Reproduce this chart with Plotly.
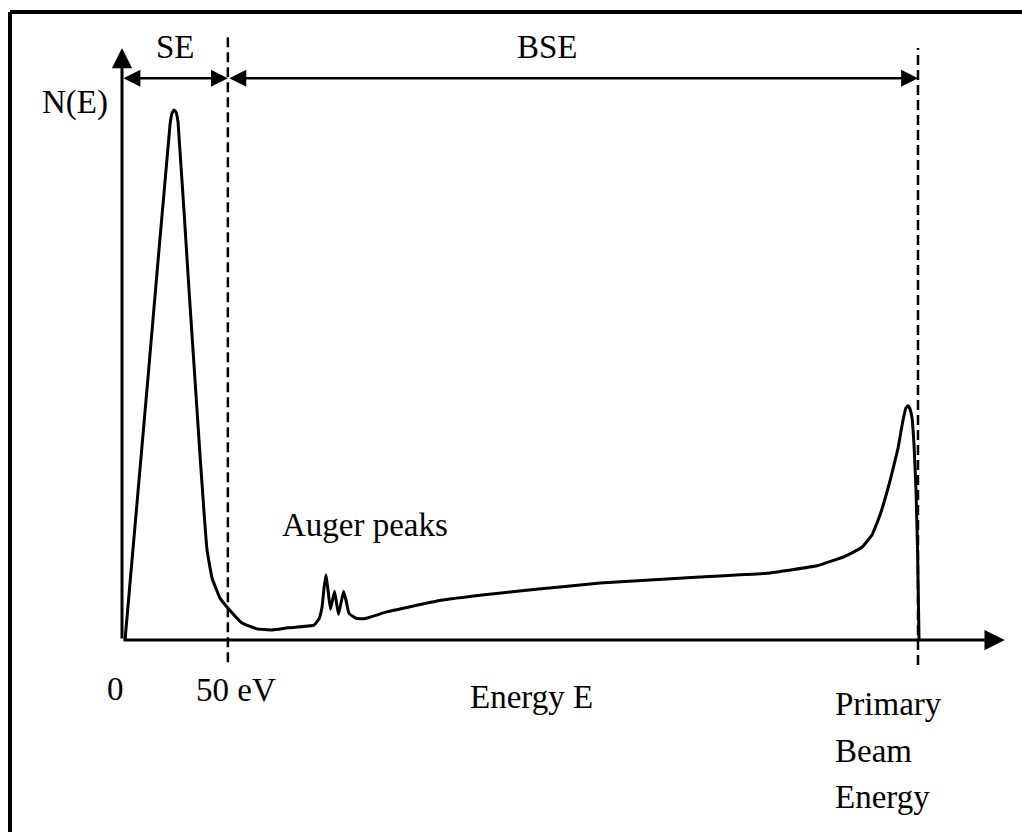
import plotly.graph_objects as go

# ---- data (schematic units: E = 100 at primary beam energy, N = 100 at SE peak) ----
energy = [0.38, 3.27, 6.03, 6.28, 6.53, 6.78, 7.04, 8.42, 9.80, 10.30, 10.68, 11.31,
          12.31, 13.32, 15.08, 16.96, 18.84, 20.85, 24.12, 24.75, 25.13, 25.38, 25.63,
          25.88, 26.19, 26.70, 27.20, 27.83, 28.14, 28.52, 29.40, 30.40, 33.29, 40.08,
          49.62, 55.03, 60.05, 66.33, 72.61, 81.03, 87.31, 90.83, 92.96, 94.22, 95.23,
          96.48, 97.49, 98.12, 98.49, 98.74, 98.99, 99.25, 99.50, 99.75, 99.94, 100.13]
counts = [0.0, 49.6, 97.2, 99.4, 100.0, 99.6, 97.7, 66.0, 34.9, 24.2, 17.0, 11.7,
          7.9, 6.0, 3.2, 2.1, 1.9, 2.3, 2.8, 4.0, 6.2, 9.8, 12.3,
          9.4, 5.8, 9.2, 4.8, 9.2, 7.5, 5.0, 4.1, 4.0, 5.3, 7.5,
          9.2, 10.0, 10.75, 11.3, 11.9, 12.6, 14.0, 15.8, 17.5, 19.8, 23.6,
          30.0, 36.2, 41.5, 43.8, 44.2, 43.6, 41.9, 36.8, 28.3, 17.0, 0.0]

E_SE_LIMIT = 13.3      # 50 eV boundary on the schematic axis
E_PRIMARY = 100.0      # primary beam energy
region_labels = ["SE", "BSE"]
tick_labels = ["0", "50 eV"]
x_title = "Energy E"
y_title = "N(E)"
primary_label = ["Primary", "Beam", "Energy"]
auger_label = "Auger peaks"

# ---- layout constants ----
X_RANGE = [-15.327, 113.065]
Y_RANGE = [-36.226, 120.755]
X_TIP = 110.9
Y_TIP = 111.7
ARROW_Y = 106.0
FONT = dict(family="Liberation Serif, Times New Roman, serif", size=33, color="black")

fig = go.Figure()
fig.add_trace(go.Scatter(x=energy, y=counts, mode="lines",
                         line=dict(color="black", width=3, shape="spline", smoothing=0.3),
                         hoverinfo="skip", showlegend=False))

shapes = [
    # frame (top and left edges visible)
    dict(type="line", xref="paper", yref="paper", x0=10/1022, x1=1.0,
         y0=1-12/832, y1=1-12/832, line=dict(color="black", width=4)),
    dict(type="line", xref="paper", yref="paper", x0=10/1022, x1=10/1022,
         y0=0.0, y1=1-12/832, line=dict(color="black", width=4)),
    # dashed boundaries
    dict(type="line", xref="x", yref="y", x0=E_SE_LIMIT, x1=E_SE_LIMIT, y0=-4.2, y1=114.2,
         line=dict(color="black", width=2.5, dash="10px,5px")),
    dict(type="line", xref="x", yref="y", x0=E_PRIMARY, x1=E_PRIMARY, y0=-4.7, y1=111.7,
         line=dict(color="black", width=2.5, dash="10px,5px")),
]

annotations = []
def arrow(x0, y0, x1, y1, both=False, width=3):
    annotations.append(dict(x=x1, y=y1, ax=x0, ay=y0, xref="x", yref="y", axref="x", ayref="y",
                            text="", showarrow=True, arrowhead=2, startarrowhead=2,
                            arrowside="end+start" if both else "end",
                            arrowwidth=width, arrowsize=1.35, startarrowsize=1.35,
                            arrowcolor="black"))

arrow(0, 0, 0, Y_TIP)                 # y axis
arrow(0, 0, X_TIP, 0)                 # x axis
arrow(0, ARROW_Y, E_SE_LIMIT, ARROW_Y, both=True, width=2.5)
arrow(E_SE_LIMIT, ARROW_Y, E_PRIMARY, ARROW_Y, both=True, width=2.5)

def text(s, x, y, xanchor="center"):
    annotations.append(dict(x=x, y=y, xref="x", yref="y", text=s, showarrow=False,
                            xanchor=xanchor, yanchor="middle", font=FONT))

text(region_labels[0], 6.66, 111.9)
text(region_labels[1], 53.4, 111.9)
text(y_title, -5.9, 101.5)
text(auger_label, 30.5, 21.7)
text(tick_labels[0], -0.88, -9.3)
text(tick_labels[1], 14.3, -9.4)
text(x_title, 51.4, -10.8)
for i, s in enumerate(primary_label):
    text(s, 89.3, -12.1 - i * 8.8, xanchor="left")

fig.update_layout(
    width=1022, height=832,
    margin=dict(l=0, r=0, t=0, b=0, pad=0),
    paper_bgcolor="white", plot_bgcolor="white",
    xaxis=dict(range=X_RANGE, visible=False, fixedrange=True),
    yaxis=dict(range=Y_RANGE, visible=False, fixedrange=True),
    shapes=shapes, annotations=annotations, showlegend=False,
)

fig.write_html("out.html", config={"displayModeBar": False})
